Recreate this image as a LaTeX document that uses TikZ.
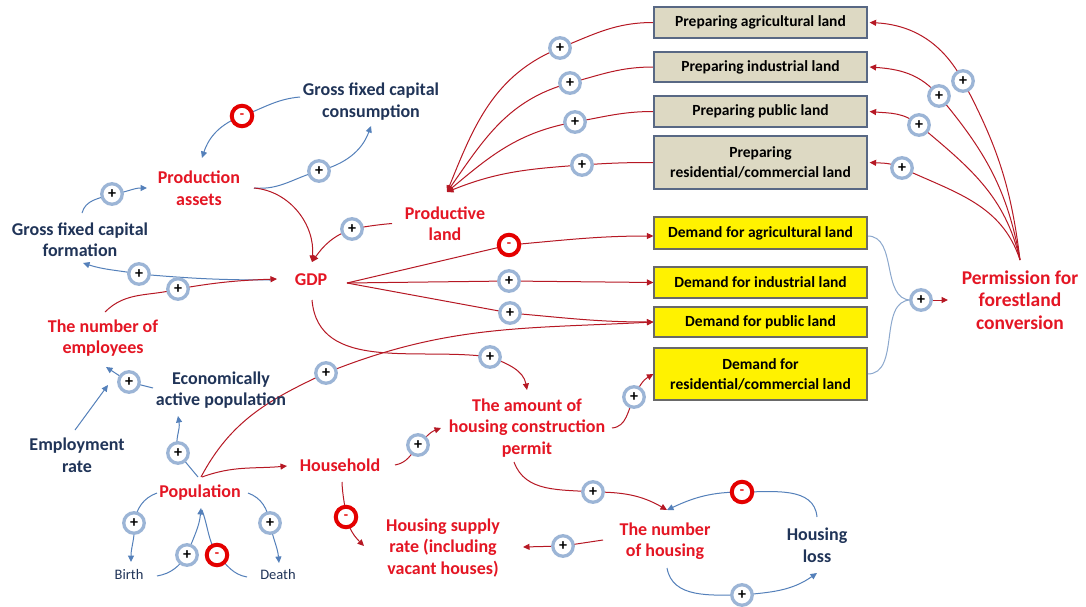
\documentclass[tikz,border=0pt]{standalone}
\usepackage{fontspec}
\setmainfont{Carlito}
\usetikzlibrary{arrows.meta}
\definecolor{tred}{RGB}{228,22,36}
\definecolor{tnavy}{RGB}{32,52,88}
\definecolor{lred}{RGB}{182,24,36}
\definecolor{lblue}{RGB}{84,128,186}
\definecolor{lblue2}{RGB}{140,168,205}
\definecolor{ringblue}{RGB}{156,181,214}
\definecolor{ringred}{RGB}{228,0,0}
\definecolor{beige}{RGB}{221,217,195}
\definecolor{beigeedge}{RGB}{88,104,132}
\definecolor{yedge}{RGB}{105,105,105}
\pgfdeclarelayer{back}
\pgfdeclarelayer{bg}
\pgfsetlayers{back,bg,main}
\tikzset{
  rtext/.style={text=tred, font=\fontsize{18}{21.5}\selectfont\bfseries, align=center, inner sep=0pt},
  btext/.style={text=tnavy, font=\fontsize{18}{21.5}\selectfont\bfseries, align=center, inner sep=0pt},
  stext/.style={text=tnavy, font=\fontsize{14.5}{17}\selectfont, inner sep=0pt},
  boxbase/.style={line width=1.2pt, minimum width=213pt, align=center, inner sep=0pt,
    font=\fontsize{15.5}{20}\selectfont\bfseries, text=black},
  prepbox/.style={boxbase, draw=beigeedge, fill=beige},
  dembox/.style={boxbase, draw=yedge, fill=yellow},
  plussign/.style={circle, draw=ringblue, line width=3.3pt, fill=white, minimum size=20.5pt,
    inner sep=0pt, font=\fontsize{16}{16}\selectfont\bfseries, text=black},
  minussign/.style={circle, draw=ringred, line width=4pt, fill=white, minimum size=20.5pt,
    inner sep=0pt, font=\fontsize{14}{14}\selectfont\bfseries, text=ringred},
  redline/.style={draw=lred, line width=1pt},
  blueline/.style={draw=lblue, line width=1pt},
  arr/.style={-{Triangle[length=6.5pt,width=6pt]}},
}
\begin{document}
\begin{tikzpicture}[x=1pt,y=1pt]
\useasboundingbox (0,0) rectangle (1086,-607);
\begin{pgfonlayer}{back}
\fill[white] (0,0) rectangle (1086,-607);
\end{pgfonlayer}

% ---- text nodes ----
\node[btext] (gfcc) at (371,-101.5) {Gross fixed capital\\consumption};
\node[rtext] (pa) at (199,-188) {Production\\assets};
\node[btext] (gfcf) at (80,-239.5) {Gross fixed capital\\formation};
\node[rtext] (gdp) at (311,-280) {GDP};
\node[rtext] (pl) at (445,-223.5) {Productive\\land};
\node[rtext] (emp) at (103,-338) {The number of\\employees};
\node[btext] (eap) at (221,-390) {Economically\\active population};
\node[btext] (er) at (77,-455) {Employment\\rate};
\node[rtext] (pop) at (200,-493) {Population};
\node[rtext] (hh) at (340,-465) {Household};
\node[stext] (birth) at (129,-575) {Birth};
\node[stext] (death) at (278,-575) {Death};
\node[rtext] (hsr) at (443,-548) {Housing supply\\rate (including\\vacant houses)};
\node[rtext] (ahcp) at (527,-428) {The amount of\\housing construction\\permit};
\node[rtext] (noh) at (665,-541) {The number\\of housing};
\node[btext] (hl) at (817,-545) {Housing\\loss};
\node[rtext, font=\fontsize{19.5}{22.5}\selectfont\bfseries] (pfc) at (1020,-300) {Permission for\\forestland\\conversion};

% ---- boxes ----
\node[prepbox, minimum height=31pt] (prepA) at (760.5,-22.5) {Preparing agricultural land};
\node[prepbox, minimum height=30pt] (prepI) at (760.5,-67) {Preparing industrial land};
\node[prepbox, minimum height=31pt] (prepP) at (760.5,-111.5) {Preparing public land};
\node[prepbox, minimum height=53pt] (prepR) at (760.5,-162.5) {Preparing\\residential/commercial land};
\node[dembox, minimum height=32pt] (demA) at (760.5,-233) {Demand for agricultural land};
\node[dembox, minimum height=31pt] (demI) at (760.5,-282.5) {Demand for industrial land};
\node[dembox, minimum height=30pt] (demP) at (760.5,-322) {Demand for public land};
\node[dembox, minimum height=52pt] (demR) at (760.5,-374) {Demand for\\residential/commercial land};

% ---- polarity signs ----
\node[minussign] (s1) at (242,-116) {-};
\node[plussign] (s2) at (319,-171) {+};
\node[plussign] (s3) at (112,-194) {+};
\node[plussign] (s4) at (352,-229) {+};
\node[plussign] (s5) at (139,-274) {+};
\node[plussign] (s6) at (178,-289) {+};
\node[minussign] (s7) at (509,-245) {-};
\node[plussign] (s8) at (509,-281) {+};
\node[plussign] (s9) at (510,-313) {+};
\node[plussign] (s10) at (490,-357) {+};
\node[plussign] (s11) at (326,-373) {+};
\node[plussign] (s12) at (129,-382) {+};
\node[plussign] (s13) at (178,-453) {+};
\node[plussign] (s14) at (418,-445) {+};
\node[plussign] (s15) at (634,-397) {+};
\node[plussign] (s16) at (134,-523) {+};
\node[plussign] (s17) at (270,-523) {+};
\node[plussign] (s18) at (187,-555) {+};
\node[minussign] (s19) at (217,-555) {-};
\node[minussign] (s20) at (346,-517) {-};
\node[plussign] (s21) at (593,-492) {+};
\node[minussign] (s22) at (742,-492) {-};
\node[plussign] (s23) at (563,-546) {+};
\node[plussign] (s24) at (742,-595) {+};
\node[plussign] (s25) at (560,-48) {+};
\node[plussign] (s26) at (570,-83) {+};
\node[plussign] (s27) at (575,-122) {+};
\node[plussign] (s28) at (582,-165) {+};
\node[plussign] (s29) at (963,-81) {+};
\node[plussign] (s30) at (939,-96) {+};
\node[plussign] (s31) at (919,-125) {+};
\node[plussign] (s32) at (902,-168) {+};
\node[plussign] (s33) at (921,-300) {+};

% ---- connectors ----
\begin{pgfonlayer}{bg}
% capital loop
\draw[blueline,arr] ([shift={(-71,4.5)}]gfcc.center) to[out=185,in=20] (s1.center) to[out=200,in=72] ([shift={(3,30)}]pa.center);
\draw[blueline,arr] ([shift={(55,0)}]pa.center) to[out=-5,in=195] (s2.center) to[out=15,in=250] ([shift={(0,-24.5)}]gfcc.center);
\draw[blueline,arr] ([shift={(2,26.5)}]gfcf.center) to[out=75,in=200] (s3.center) to[out=5,in=180] ([shift={(-52,0)}]pa.center);
\draw[redline,arr] ([shift={(55,0)}]pa.center) to[out=-5,in=85] ([shift={(1,18)}]gdp.center);
\draw[redline,arr] ([shift={(-53,0)}]pl.center) to[out=185,in=10] (s4.center) to[out=200,in=55] ([shift={(1,18)}]gdp.center);
\draw[blueline,arr] ([shift={(-39,0)}]gdp.center) to[out=180,in=-5] (s5.center) to[out=170,in=-18] ([shift={(3,-23.5)}]gfcf.center);
\draw[redline,arr] ([shift={(2,26)}]emp.center) to[out=45,in=195] (s6.center) to[out=10,in=182] ([shift={(-34,1)}]gdp.center);
% GDP to demands
\draw[redline,arr] ([shift={(36,-3)}]gdp.center) -- (s7.center) to[out=5,in=180] ([yshift=-3pt]demA.west);
\draw[redline,arr] ([shift={(36,-3)}]gdp.center) -- (s8.center) -- (demI.west);
\draw[redline,arr] ([shift={(36,-3)}]gdp.center) -- (s9.center) to[out=-5,in=180] (demP.west);
\draw[redline,arr] ([shift={(1,-20)}]gdp.center) to[out=-85,in=172] (s10.center) to[out=-20,in=100] ([shift={(0,38)}]ahcp.center);
% population
\draw[redline,arr] ([shift={(1,16)}]pop.center) to[out=62,in=205] (s11.center) to[out=22,in=183] (demP.west);
\draw[redline,arr] ([shift={(2,16)}]pop.center) to[out=20,in=185] ([shift={(-53,-1)}]hh.center);
\draw[blueline,arr] ([shift={(-2,16)}]pop.center) -- (s13.center) to[out=105,in=-80] ([shift={(-43,-26)}]eap.center);
\draw[blueline,arr] ([shift={(-68,2)}]eap.center) -- (s12.center) -- ([shift={(3,-29)}]emp.center);
\draw[blueline,arr] ([shift={(-2,25)}]er.center) -- ([shift={(5,-47)}]emp.center);
\draw[blueline,arr] ([shift={(-43,0)}]pop.center) to[out=200,in=80] (s16.center) to[out=-85,in=90] ([shift={(2,13)}]birth.center);
\draw[blueline,arr] ([shift={(48,0)}]pop.center) to[out=-20,in=100] (s17.center) to[out=-80,in=95] ([shift={(1,12)}]death.center);
\draw[blueline,arr] ([shift={(28,-1)}]birth.center) to[out=10,in=235] (s18.center) to[out=70,in=265] ([shift={(1,-15)}]pop.center);
\draw[blueline] ([shift={(-31,-2)}]death.center) to[out=170,in=-45] (s19.center) to[out=120,in=-70] ([shift={(2,-17)}]pop.center);
% household
\draw[redline,arr] ([shift={(55,0)}]hh.center) to[out=10,in=235] (s14.center) to[out=45,in=200] ([shift={(-86,0)}]ahcp.center);
\draw[redline,arr] ([shift={(2,-17)}]hh.center) to[out=-88,in=95] (s20.center) to[out=-75,in=135] ([shift={(-79,2)}]hsr.center);
% housing
\draw[redline,arr] ([shift={(85,0)}]ahcp.center) to[out=5,in=245] (s15.center) to[out=65,in=210] (demR.west);
\draw[redline,arr] ([shift={(-13,-34)}]ahcp.center) to[out=-70,in=175] (s21.center) to[out=0,in=150] ([shift={(2,31)}]noh.center);
\draw[blueline,arr] ([shift={(0,28)}]hl.center) to[out=95,in=0] (s22.center) to[out=180,in=25] ([shift={(2,31)}]noh.center);
\draw[blueline,arr] ([shift={(2,-27)}]noh.center) to[out=-80,in=180] (s24.center) to[out=5,in=215] ([shift={(0,-28)}]hl.center);
\draw[redline,arr] ([shift={(-62,1)}]noh.center) -- (s23.center) -- ([shift={(80,1)}]hsr.center);
% preparing land -> productive land
\draw[redline,arr] (prepA.west) to[out=180,in=22] (s25.center) to[out=202,in=68] ([shift={(2,31.5)}]pl.center);
\draw[redline,arr] (prepI.west) to[out=180,in=15] (s26.center) to[out=195,in=55] ([shift={(2,31.5)}]pl.center);
\draw[redline,arr] (prepP.west) to[out=180,in=10] (s27.center) to[out=190,in=40] ([shift={(2,31.5)}]pl.center);
\draw[redline,arr] (prepR.west) to[out=180,in=4] (s28.center) to[out=184,in=22] ([shift={(2,31.5)}]pl.center);
% permission -> preparing land
\draw[redline,arr] ([shift={(0,40)}]pfc.center) to[out=97,in=-62] (s29.center) to[out=118,in=-3] ([xshift=2pt]prepA.east);
\draw[redline,arr] ([shift={(0,40)}]pfc.center) to[out=100,in=-50] (s30.center) to[out=130,in=-4] ([xshift=2pt]prepI.east);
\draw[redline,arr] ([shift={(0,40)}]pfc.center) to[out=103,in=-40] (s31.center) to[out=140,in=-5] ([xshift=2pt]prepP.east);
\draw[redline,arr] ([shift={(0,40)}]pfc.center) to[out=108,in=-25] (s32.center) to[out=155,in=-3] ([xshift=2pt]prepR.east);
% demands -> permission
\draw[draw=lblue2, line width=1pt] ([yshift=-3pt]demA.east) to[out=0,in=180] ([xshift=-10pt]s33.center) -- (s33.center);
\draw[draw=lblue2, line width=1pt] (demR.east) to[out=0,in=180] ([xshift=-10pt]s33.center);
\draw[redline,arr] (s33.center) -- ([shift={(-72,0)}]pfc.center);
\end{pgfonlayer}
\end{tikzpicture}
\end{document}
